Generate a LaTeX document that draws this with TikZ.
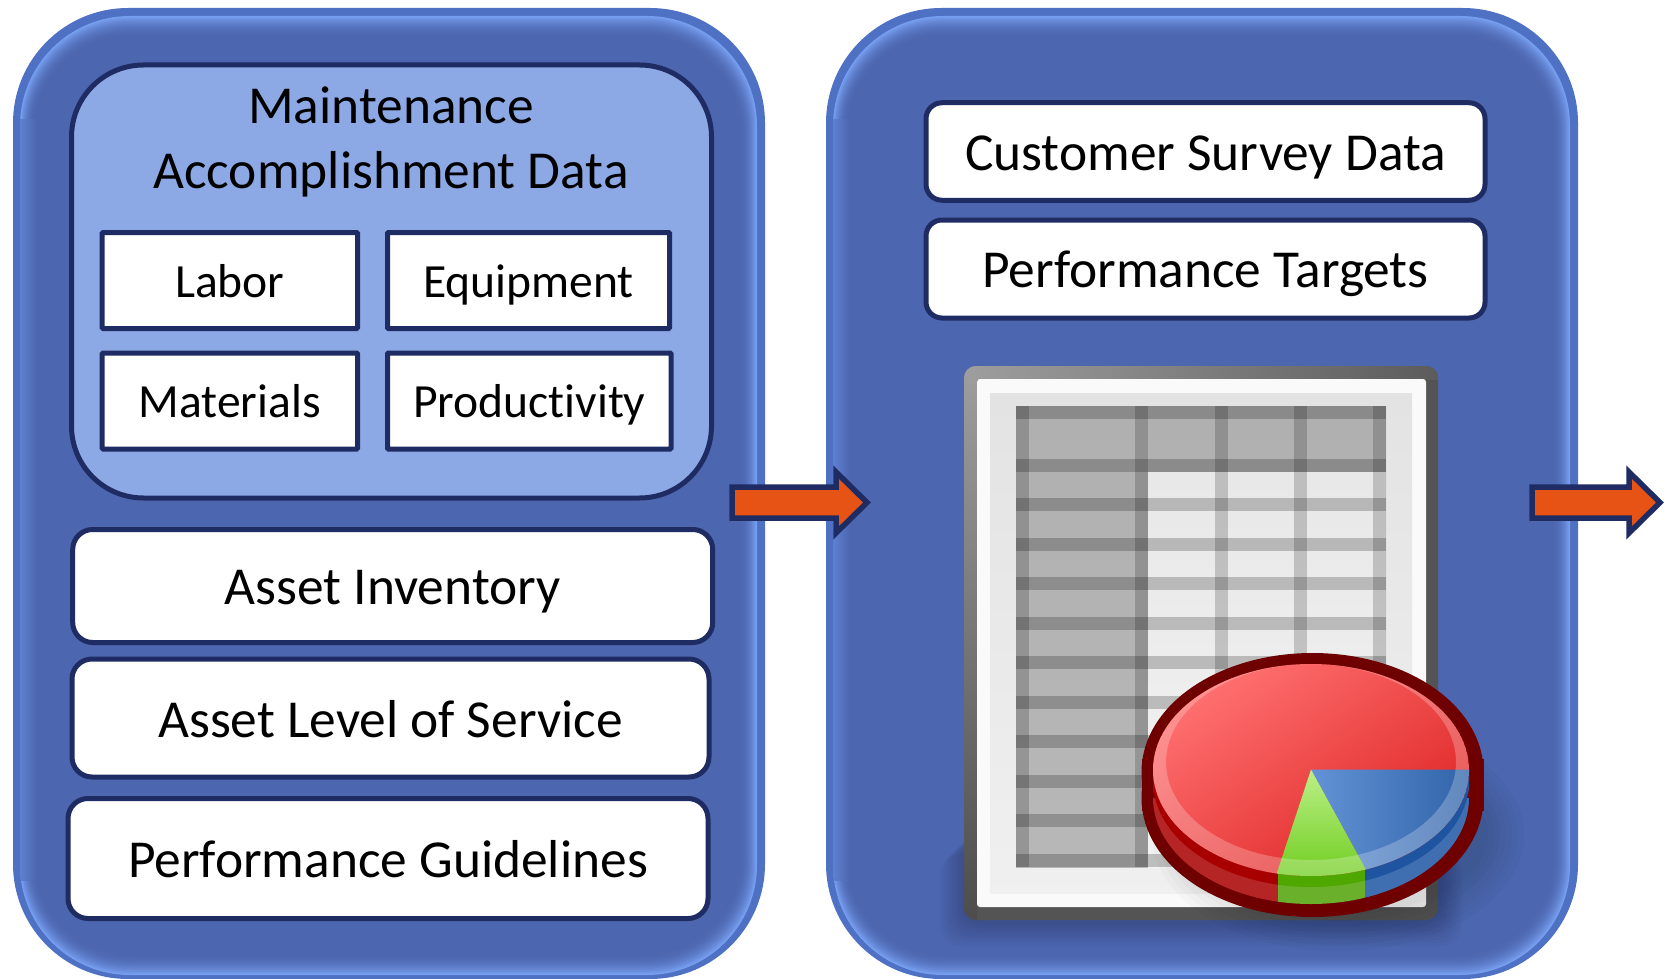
\documentclass[tikz,border=0pt]{standalone}
\usepackage{fontspec}
\setmainfont{Carlito}[Ligatures=NoCommon]
\definecolor{bodyblue}{HTML}{4C66AF}
\definecolor{bandblue}{HTML}{4F71C4}
\definecolor{brightblue}{HTML}{769EF0}
\definecolor{mutedblue}{HTML}{5F80D0}
\definecolor{navy}{HTML}{1F2C64}
\definecolor{maintblue}{HTML}{8DA9E5}
\definecolor{arroworange}{HTML}{E65314}
\definecolor{piedark}{HTML}{6E0000}
\definecolor{sideR}{HTML}{B52525}\definecolor{sideG}{HTML}{6BB02A}\definecolor{sideB}{HTML}{3F6FB0}
\definecolor{bandR}{HTML}{A80000}\definecolor{bandG}{HTML}{4FA800}\definecolor{bandB}{HTML}{1F55A0}
\definecolor{redA}{HTML}{FF7070}\definecolor{redB}{HTML}{DE2424}
\definecolor{blueA}{HTML}{6393D6}\definecolor{blueB}{HTML}{2D60A6}
\definecolor{greenA}{HTML}{BBF088}\definecolor{greenB}{HTML}{62C60C}
\tikzset{
  lbl/.style={font=\fontsize{#1}{#1}\selectfont,text=black},
  off/.style={text height=20pt+#1pt,text depth=20pt-#1pt},
  box/.style={draw=navy,fill=white,line width=5pt,inner sep=0pt,outer sep=0pt},
  squarebox/.style={box,rounded corners=1pt,lbl=47.6,off=16.7},
  roundbox/.style={box,rounded corners=20pt,lbl=53.4},
  smallround/.style={box,rounded corners=16pt,lbl=53.4},
  blockarrow/.style={draw=navy,fill=arroworange,line width=5.5pt,miter limit=10},
  colstripe/.style={fill=black,fill opacity=0.18},
  rowstripe/.style={fill=black,fill opacity=0.21},
  pieline/.style={piedark,fill=piedark,line width=26pt},
}
\newcommand{\bevelpanel}[2]{%
  \fill[bandblue,rounded corners=115pt] (#1,8) rectangle (#2,979);
  \foreach \i in {0,...,14}{%
    \pgfmathsetmacro{\pp}{100*(1-\i/14)^2.2}%
    \pgfmathsetmacro{\lft}{#1+7+\i*1.1}%
    \pgfmathsetmacro{\rgt}{#2-8-\i*1.3}%
    \pgfmathsetmacro{\tp}{16+\i*1.6}%
    \pgfmathsetmacro{\bt}{975-\i*1.6}%
    \pgfmathsetmacro{\rr}{110-\i}%
    \fill[brightblue!\pp!bodyblue,rounded corners=\rr pt] (\lft,\tp) rectangle (\rgt,\bt);
  }
  \begin{scope}
    \clip[rounded corners=110pt] (#1+7,16) rectangle (#2-8,975);
    \shade[left color=mutedblue,right color=bodyblue] (#1+7,120) rectangle (#1+24,880);
  \end{scope}
}
\newcommand{\pieside}[4]{%
  \begin{scope}
    \clip (1311,#1) ellipse [x radius=158,y radius=106] (1153,770) rectangle (1469,#1);
    \fill[#2] (1140,760) rectangle (1278,920);
    \fill[#3] (1278,760) rectangle (1365,920);
    \fill[#4] (1365,760) rectangle (1490,920);
  \end{scope}
}
\begin{document}
\begin{tikzpicture}[x=1pt,y=-1pt]
\useasboundingbox (0,0) rectangle (1667,979);
\fill[white] (0,0) rectangle (1667,979);

% panels
\bevelpanel{13}{765}
\bevelpanel{826}{1578}

% left panel
\node[box,fill=maintblue,rounded corners=72pt,minimum width=640pt,minimum height=433pt] (maint) at (391.5,281.5) {};
\node[align=center,text=black,font=\fontsize{53.4}{64.5}\selectfont] (title) at (391,142) {Maintenance\\Accomplishment Data};
\node[squarebox,minimum width=255.5pt,minimum height=96pt] (labor) at (229.8,280.5) {Labor};
\node[squarebox,minimum width=282pt,minimum height=96pt] (equip) at (528.5,280.5) {Equipment};
\node[squarebox,minimum width=255.5pt,minimum height=96pt] (mater) at (229.8,401) {Materials};
\node[squarebox,minimum width=283.6pt,minimum height=96pt] (prod) at (529.3,401) {Productivity};
\node[roundbox,off=18,minimum width=640pt,minimum height=113pt] (inv) at (392.7,586) {Asset Inventory};
\node[roundbox,off=19,minimum width=637pt,minimum height=118pt] (los) at (390.5,718) {Asset Level of Service};
\node[roundbox,off=18.5,minimum width=640pt,minimum height=120pt] (guide) at (388,858.5) {Performance Guidelines};

% right panel boxes
\node[smallround,off=18.5,minimum width=559pt,minimum height=97.5pt] (survey) at (1205.5,151.5) {Customer Survey Data};
\node[smallround,off=18.5,minimum width=559pt,minimum height=98pt] (target) at (1205.5,269) {Performance Targets};

% frame shadow
\foreach \e in {3,6,...,24}{
  \fill[black,opacity=0.022,rounded corners=20pt] (964-\e,830+\e) rectangle (1438+\e,922+\e);
}
% spreadsheet
\fill[black!67,rounded corners=12pt] (964,366) rectangle (1438,920);
\begin{scope}
  \clip[rounded corners=12pt] (964,366) rectangle (1438,920);
  \shade[left color=black!38,right color=black!64] (964,366) rectangle (1438,379);
  \shade[top color=black!38,bottom color=black!70] (964,366) rectangle (977,920);
\end{scope}
\fill[white!98!black,rounded corners=3pt] (977,379) rectangle (1426,907);
\shade[top color=black!11,bottom color=black!6] (990,393) rectangle (1412,893);
\shade[top color=black!31,bottom color=black!28] (1016,406) rectangle (1386,867);
\shade[top color=black!9,bottom color=black!5] (1148,472) rectangle (1386,867);
\foreach \xa in {1016,1135,1215,1294,1373}{
  \fill[colstripe] (\xa,406) rectangle (\xa+13,867);
}
\foreach \ya in {406,458.5,498,537.5,577,616.5,656,695.5,735,774.5,814,854}{
  \fill[rowstripe] (1016,\ya) rectangle (1386,\ya+13);
}

% pie shadow
\foreach \e in {0,6,...,36}{
  \fill[black,opacity=0.02] (1338,835) ellipse [x radius=150+\e,y radius=80+\e];
}
% pie outline
\draw[pieline] (1312.5,772) ellipse [x radius=158,y radius=106];
\draw[pieline] (1312.5,798) ellipse [x radius=158,y radius=106];
\draw[pieline] (1154.5,772) rectangle (1470.5,798);
% pie side
\pieside{798}{sideR}{sideG}{sideB}
\pieside{781}{bandR}{bandG}{bandB}
% pie top
\begin{scope}
  \clip (1311,770) ellipse [x radius=158,y radius=106];
  \shade[left color=redA,right color=redB,shading angle=35] (1150,664) rectangle (1472,876);
  \shade[left color=blueA,right color=blueB] (1311,769.5) -- (1480,769.5) -- (1480,900) -- (1382.6,900) -- cycle;
  \shade[top color=greenA,bottom color=greenB] (1311,769.5) -- (1382.6,900) -- (1268,900) -- cycle;
  \fill[white,opacity=0.24,even odd rule] (1311,770) ellipse [x radius=158,y radius=106] (1311,762) ellipse [x radius=145,y radius=98];
\end{scope}

% block arrows
\draw[blockarrow] (732,487) -- (836,487) -- (836,472) -- (867,502.5) -- (836,533) -- (836,518) -- (732,518) -- cycle;
\draw[blockarrow] (1532,487) -- (1629,487) -- (1629,472) -- (1660,502.5) -- (1629,533) -- (1629,518) -- (1532,518) -- cycle;
\end{tikzpicture}
\end{document}
